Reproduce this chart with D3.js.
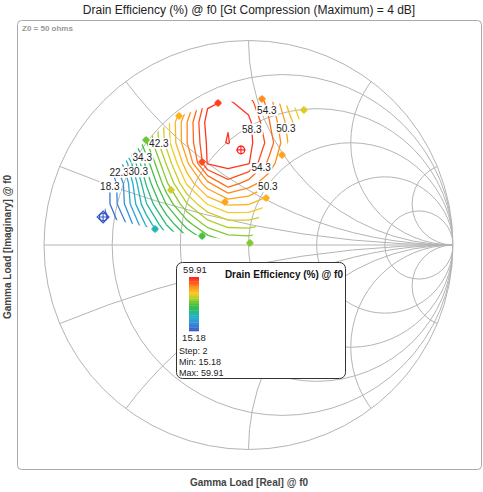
<!DOCTYPE html>
<html>
<head>
<meta charset="utf-8">
<script src="https://cdn.jsdelivr.net/npm/d3@7"></script>
<style>
  body { margin: 0; background: #fff; }
  text { font-family: Arial, "Liberation Sans", Helvetica, sans-serif; }
</style>
</head>
<body>
<svg id="chart" width="483" height="492"></svg>
<script>
// ---- Chart text ----
const titleText = "Drain Efficiency (%) @ f0 [Gt Compression (Maximum) = 4 dB]";
const z0Text = "Z0 = 50 ohms";
const xAxisText = "Gamma Load [Real] @ f0";
const yAxisText = "Gamma Load [Imaginary] @ f0";
const legendTitle = "Drain Efficiency (%) @ f0";

// ---- Smith chart grid ----
const resistanceValues = [0.2, 0.5, 1, 2, 5];
const reactanceValues = [0.2, 0.5, 1, 2, 5];

// ---- Efficiency surface on a Gamma grid (rows top to bottom) ----
const gridRe = [-0.8, -0.7, -0.6, -0.5, -0.4, -0.3, -0.2, -0.1, 0.0, 0.1, 0.2, 0.3];
const gridIm = [0.8, 0.7, 0.6, 0.5, 0.4, 0.3, 0.2, 0.1, 0.0];
const efficiency = [
  [15.0, 21.5, 27.9, 34.2, 40.0, 45.4, 54.0, 55.5, 54.0, 49.5, 43.6, 39.3],
  [16.7, 23.5, 30.3, 37.1, 43.5, 49.6, 57.8, 58.6, 57.2, 53.5, 47.1, 42.1],
  [17.5, 24.5, 31.5, 38.5, 45.4, 52.3, 59.3, 58.35, 58.9, 54.5, 49.2, 43.8],
  [16.7, 23.9, 30.9, 38.0, 45.1, 52.3, 58.7, 58.25, 59.0, 55.6, 49.9, 44.5],
  [13.5, 19.0, 25.5, 35.1, 42.6, 49.9, 58.5, 59.3, 58.5, 53.7, 49.1, 44.1],
  [10.3, 17.0, 23.0, 32.5, 39.9, 46.6, 51.6, 55.5, 53.3, 50.8, 47.1, 42.6],
  [10.5, 17.0, 22.7, 30.1, 36.5, 42.2, 46.4, 48.6, 48.4, 46.7, 44.1, 40.6],
  [8.5, 15.0, 20.1, 26.6, 32.4, 37.3, 41.1, 43.1, 43.2, 42.2, 40.1, 37.5],
  [3.1, 10.2, 16.7, 22.7, 28.0, 32.4, 35.7, 37.6, 38.0, 37.2, 35.7, 33.4]
];
const contourLevels = [16.3, 18.3, 20.3, 22.3, 24.3, 26.3, 28.3, 30.3, 32.3, 34.3, 36.3,
                       38.3, 40.3, 42.3, 44.3, 46.3, 48.3, 50.3, 52.3, 54.3, 56.3, 58.3];
const effMin = 15.18, effMax = 59.91, effStep = 2;

// ---- Measured load points ----
const pointRe  = [-0.711, -0.501, -0.340, -0.149, 0.066, 0.271, 0.164, 0.086, 0.007, -0.227, -0.457, -0.227, -0.037, -0.379, -0.115];
const pointIm  = [0.137, 0.513, 0.631, 0.694, 0.714, 0.660, 0.440, 0.230, 0.010, 0.044, 0.078, 0.406, 0.465, 0.269, 0.210];
const pointEff = [15.18, 39.0, 49.0, 57.5, 52.0, 45.0, 50.0, 49.0, 40.0, 37.0, 29.0, 56.5, 59.91, 44.0, 50.0];

// ---- Outline of the measured area ----
const regionRe = [-0.711, -0.667, -0.501, -0.340, -0.149, 0.066, 0.271, 0.164, 0.086, 0.007, -0.227, -0.457];
const regionIm = [0.137, 0.342, 0.513, 0.631, 0.694, 0.714, 0.660, 0.440, 0.230, 0.010, 0.044, 0.078];

// ---- Contour label anchors ----
const labelLevel = [54.3, 54.3, 58.3, 50.3, 50.3, 42.3, 34.3, 22.3, 30.3, 18.3];
const labelRe    = [0.076, 0.071, 0.022, 0.188, 0.095, -0.433, -0.521, -0.628, -0.545, -0.658];
const labelIm    = [0.655, 0.367, 0.567, 0.572, 0.284, 0.499, 0.425, 0.357, 0.357, 0.284];

// ---- Colour map ----
const colorValues = [15.18, 20, 25, 29.5, 33, 37.5, 42, 46.5, 51, 55.5, 59.91];
const colorHexes  = ["#3555c9", "#3b7fd6", "#2ba6d6", "#22b8aa", "#2cb96a", "#4cc13a",
                     "#a9cf2b", "#f7cb22", "#ff9a1a", "#ff5a1e", "#ff1e1e"];

const svg = d3.select("#chart");
const color = d3.scaleLinear().domain(colorValues).range(colorHexes).clamp(true);

// Gamma plane -> pixels
const x = d3.scaleLinear().domain([-1, 1]).range([44, 453]);
const y = d3.scaleLinear().domain([-1, 1]).range([449.5, 40.5]);
const unit = x(1) - x(0);

// Frame
svg.append("rect")
  .attr("x", 17.5).attr("y", 20.5).attr("width", 464).attr("height", 449)
  .attr("rx", 4).attr("fill", "#fff").attr("stroke", "#aaa").attr("stroke-width", 1);

svg.append("text").attr("x", 249).attr("y", 14).attr("text-anchor", "middle")
  .attr("font-size", 12).attr("fill", "#222").text(titleText);
svg.append("text").attr("x", 22).attr("y", 31).attr("font-size", 8)
  .attr("font-weight", "bold").attr("fill", "#999").text(z0Text);
svg.append("text").attr("x", 249).attr("y", 486).attr("text-anchor", "middle")
  .attr("font-size", 10).attr("font-weight", "bold").attr("fill", "#444").text(xAxisText);
svg.append("text").attr("transform", "translate(11,247) rotate(-90)").attr("text-anchor", "middle")
  .attr("font-size", 10).attr("font-weight", "bold").attr("fill", "#444").text(yAxisText);

// Smith chart grid
const defs = svg.append("defs");
defs.append("clipPath").attr("id", "unitClip")
  .append("circle").attr("cx", x(0)).attr("cy", y(0)).attr("r", unit);

const grid = svg.append("g").attr("clip-path", "url(#unitClip)")
  .attr("fill", "none").attr("stroke", "#b4b4b4").attr("stroke-width", 1);

grid.selectAll(".rc").data(resistanceValues).join("circle")
  .attr("cx", r => x(r / (1 + r))).attr("cy", y(0)).attr("r", r => unit / (1 + r));

const arcs = reactanceValues.flatMap(v => [v, -v]);
grid.selectAll(".xc").data(arcs).join("circle")
  .attr("cx", x(1)).attr("cy", v => y(1 / v)).attr("r", v => unit / Math.abs(v));

grid.append("line").attr("x1", x(-1)).attr("x2", x(1)).attr("y1", y(0)).attr("y2", y(0));

svg.append("circle").attr("cx", x(0)).attr("cy", y(0)).attr("r", unit)
  .attr("fill", "none").attr("stroke", "#b4b4b4").attr("stroke-width", 1);

// Contours
const nx = gridRe.length, ny = gridIm.length;
const gx = d3.scaleLinear().domain([0.5, nx - 0.5]).range([gridRe[0], gridRe[nx - 1]]);
const gy = d3.scaleLinear().domain([0.5, ny - 0.5]).range([gridIm[0], gridIm[ny - 1]]);
const project = p => [x(gx(p[0])), y(gy(p[1]))];

const contourSets = d3.contours().size([nx, ny]).thresholds(contourLevels)(efficiency.flat());

const regionPx = regionRe.map((re, i) => [x(re), y(regionIm[i])]);
defs.append("clipPath").attr("id", "dataClip")
  .append("polygon").attr("points", regionPx.map(p => p.join(",")).join(" "));

const ringPath = ring => "M" + ring.map(p => project(p).join(",")).join("L") + "Z";

svg.append("g").attr("clip-path", "url(#dataClip)")
  .selectAll("path").data(contourSets).join("path")
  .attr("d", c => c.coordinates.map(poly => poly.map(ringPath).join("")).join(""))
  .attr("fill", "none")
  .attr("stroke", c => color(c.value))
  .attr("stroke-width", 1.3)
  .attr("stroke-linejoin", "round");

// Nearest point on a level's rings (inside the measured area) to an anchor
function nearestOnLevel(set, target) {
  let best = target, bestD = Infinity;
  set.coordinates.forEach(poly => poly.forEach(ring => {
    const pts = ring.map(project);
    for (let i = 0; i < pts.length - 1; i++) {
      const a = pts[i], b = pts[i + 1];
      const dx = b[0] - a[0], dy = b[1] - a[1];
      const L = dx * dx + dy * dy;
      let t = L ? ((target[0] - a[0]) * dx + (target[1] - a[1]) * dy) / L : 0;
      t = Math.max(0, Math.min(1, t));
      const q = [a[0] + t * dx, a[1] + t * dy];
      if (!d3.polygonContains(regionPx, q)) continue;
      const d = (q[0] - target[0]) ** 2 + (q[1] - target[1]) ** 2;
      if (d < bestD) { bestD = d; best = q; }
    }
  }));
  return best;
}

// Contour labels
const labelG = svg.append("g");
labelLevel.forEach((lv, k) => {
  const set = contourSets.find(c => Math.abs(c.value - lv) < 1e-6);
  const target = [x(labelRe[k]), y(labelIm[k])];
  const pos = set ? nearestOnLevel(set, target) : target;
  const g = labelG.append("g");
  const t = g.append("text").attr("x", pos[0]).attr("y", pos[1] + 3.5)
    .attr("text-anchor", "middle").attr("font-size", 10).attr("fill", "#222")
    .text(lv.toFixed(1));
  const bb = t.node().getBBox();
  g.insert("rect", "text").attr("x", bb.x - 1).attr("y", bb.y)
    .attr("width", bb.width + 2).attr("height", bb.height).attr("fill", "#fff");
});

// Measured points
const pts = svg.append("g");
pointRe.forEach((re, i) => {
  const cx = x(re), cy = y(pointIm[i]), c = color(pointEff[i]);
  const g = pts.append("g").attr("transform", `translate(${cx},${cy})`);
  if (pointEff[i] === effMax || pointEff[i] === effMin) {
    if (pointEff[i] === effMin) {
      g.append("path").attr("d", "M0,-6L6,0L0,6L-6,0Z").attr("fill", "none").attr("stroke", c).attr("stroke-width", 1.1);
    }
    g.append("circle").attr("r", 3.8).attr("fill", "none").attr("stroke", c).attr("stroke-width", 1.2);
    g.append("path").attr("d", "M-4.5,0H4.5M0,-4.5V4.5").attr("stroke", c).attr("stroke-width", 1.1);
  } else {
    g.append("circle").attr("r", 3).attr("fill", c);
    g.append("path").attr("d", "M-4,0H4M0,-4V4").attr("stroke", c).attr("stroke-width", 1);
  }
});

// Legend
const lg = svg.append("g");
lg.append("rect").attr("x", 176.5).attr("y", 262.5).attr("width", 169).attr("height", 116)
  .attr("rx", 6).attr("fill", "#fff").attr("stroke", "#333").attr("stroke-width", 1);
lg.append("text").attr("x", 343).attr("y", 278).attr("text-anchor", "end")
  .attr("font-size", 10).attr("font-weight", "bold").attr("fill", "#111").text(legendTitle);
const ly = d3.scaleLinear().domain([effMin, effMax]).range([331, 277]);
const bands = [effMin, ...contourLevels, effMax];
lg.selectAll(".band").data(d3.pairs(bands)).join("rect")
  .attr("x", 189).attr("width", 10)
  .attr("y", b => ly(b[1])).attr("height", b => ly(b[0]) - ly(b[1]) + 0.3)
  .attr("fill", b => color((b[0] + b[1]) / 2));
lg.append("text").attr("x", 195).attr("y", 273).attr("text-anchor", "middle")
  .attr("font-size", 9.5).attr("fill", "#222").text(effMax.toFixed(2));
lg.append("text").attr("x", 194).attr("y", 341).attr("text-anchor", "middle")
  .attr("font-size", 9.5).attr("fill", "#222").text(effMin.toFixed(2));
lg.append("text").attr("x", 179).attr("y", 354).attr("font-size", 9).attr("fill", "#222").text("Step: " + effStep);
lg.append("text").attr("x", 179).attr("y", 365).attr("font-size", 9).attr("fill", "#222").text("Min: " + effMin.toFixed(2));
lg.append("text").attr("x", 179).attr("y", 376).attr("font-size", 9).attr("fill", "#222").text("Max: " + effMax.toFixed(2));
</script>
</body>
</html>
